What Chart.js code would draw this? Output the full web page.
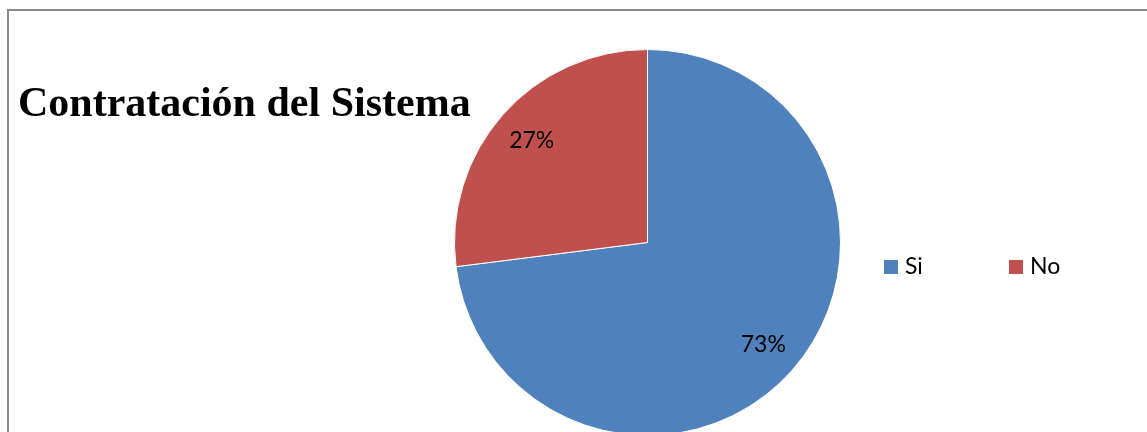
<!DOCTYPE html>
<html>
<head>
<meta charset="utf-8">
<script src="https://cdn.jsdelivr.net/npm/chart.js@4/dist/chart.umd.min.js"></script>
<style>
  html, body { margin: 0; padding: 0; background: #ffffff; overflow: hidden; }
  body { width: 1147px; height: 432px; position: relative; }
  #frame {
    position: absolute; left: 7px; top: 9px; width: 1400px; height: 600px;
    border-left: 2px solid #8a8a8a; border-top: 2px solid #8a8a8a;
    box-sizing: border-box;
  }
  #wrap { position: absolute; left: 0; top: 0; width: 1147px; height: 480px; }
</style>
</head>
<body>
<div id="frame"></div>
<div id="wrap"><canvas id="chart"></canvas></div>
<script>
// Survey answers: share of respondents for each option
const categories = ['Si', 'No'];
const values = [73, 27];
const sliceColors = ['#4F81BD', '#C0504D'];
const chartTitle = 'Contratación del Sistema';

const labelFont = '23px Lato, "Open Sans", sans-serif';

// Percent labels placed along each slice's bisector
const percentLabels = {
  id: 'percentLabels',
  afterDatasetsDraw(chart) {
    const ctx = chart.ctx;
    const meta = chart.getDatasetMeta(0);
    const data = chart.data.datasets[0].data;
    const total = data.reduce((a, b) => a + b, 0);
    ctx.save();
    ctx.font = labelFont;
    ctx.fillStyle = '#000000';
    ctx.textAlign = 'center';
    ctx.textBaseline = 'middle';
    meta.data.forEach((arc, i) => {
      const p = arc.getProps(['x', 'y', 'startAngle', 'endAngle', 'outerRadius'], true);
      const mid = (p.startAngle + p.endAngle) / 2;
      const r = p.outerRadius * 0.8;
      const pct = Math.round(data[i] / total * 100) + '%';
      ctx.fillText(pct, p.x + Math.cos(mid) * r, p.y + Math.sin(mid) * r);
    });
    ctx.restore();
  }
};

// Title on the left and a one-row legend on the right
const sideTexts = {
  id: 'sideTexts',
  afterDraw(chart) {
    const ctx = chart.ctx;
    ctx.save();
    ctx.font = 'bold 42px "Liberation Serif", "Times New Roman", serif';
    ctx.fillStyle = '#000000';
    ctx.textAlign = 'left';
    ctx.textBaseline = 'alphabetic';
    ctx.fillText(chartTitle, 18, 116);

    const legendX = [884, 1009];
    ctx.font = labelFont;
    ctx.textBaseline = 'middle';
    chart.data.labels.forEach((lab, i) => {
      ctx.fillStyle = chart.data.datasets[0].backgroundColor[i];
      ctx.fillRect(legendX[i], 260, 14, 14);
      ctx.fillStyle = '#000000';
      ctx.fillText(lab, legendX[i] + 21, 267);
    });
    ctx.restore();
  }
};

new Chart(document.getElementById('chart'), {
  type: 'pie',
  data: {
    labels: categories,
    datasets: [{
      data: values,
      backgroundColor: sliceColors,
      borderColor: '#ffffff',
      borderWidth: 1
    }]
  },
  options: {
    responsive: true,
    maintainAspectRatio: false,
    animation: false,
    layout: { padding: { left: 454, right: 306, top: 49, bottom: 44 } },
    plugins: {
      legend: { display: false },
      tooltip: { enabled: false },
      title: { display: false }
    }
  },
  plugins: [percentLabels, sideTexts]
});
</script>
</body>
</html>
